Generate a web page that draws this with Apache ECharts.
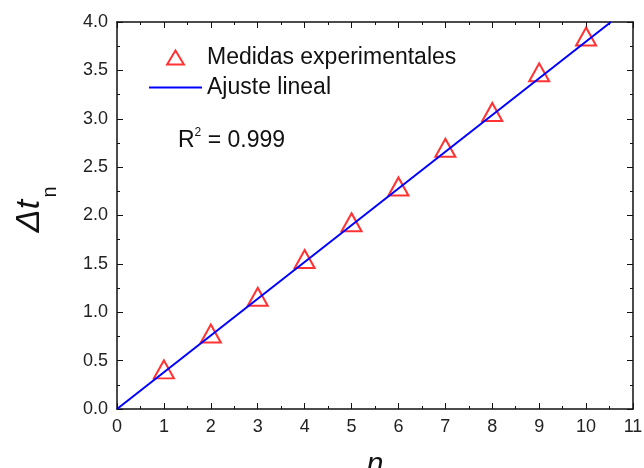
<!DOCTYPE html>
<html>
<head>
<meta charset="utf-8">
<script src="https://cdn.jsdelivr.net/npm/echarts@6/dist/echarts.min.js"></script>
<style>
  html, body { margin: 0; padding: 0; background: #fff; }
  #chart { width: 644px; height: 468px; }
</style>
</head>
<body>
<div id="chart"></div>
<script>
// datos
var nVals = [1, 2, 3, 4, 5, 6, 7, 8, 9, 10];
var dtVals = [0.41, 0.78, 1.16, 1.55, 1.93, 2.30, 2.70, 3.07, 3.48, 3.85];
// recta de ajuste (extremos)
var fitX = [0, 10.53];
var fitY = [0, 4.0];

var font = 'Liberation Sans, Arial, sans-serif';

var chart = echarts.init(document.getElementById('chart'));

// ejes del marco: marcas hacia dentro
function frameAxis(extra) {
    var base = {
        axisLine: { show: true, onZero: false, lineStyle: { color: '#111', width: 1.5 } },
        axisTick: { show: true, inside: false, length: -6, lineStyle: { color: '#111', width: 1 } },
        minorTick: { show: true, splitNumber: 2, length: -3, lineStyle: { color: '#111', width: 1 } },
        splitLine: { show: false },
        axisLabel: { show: false }
    };
    return Object.assign(base, extra);
}

var option = {
    animation: false,
    backgroundColor: '#fff',
    grid: { left: 117, right: 11, top: 22, bottom: 59, containLabel: false, outerBoundsMode: 'none' },
    legend: {
        orient: 'vertical',
        left: 144,
        top: 41,
        itemWidth: 53,
        itemHeight: 14,
        itemGap: 7,
        textStyle: { fontFamily: font, fontSize: 23, color: '#111' },
        data: [
            { name: 'Medidas experimentales', icon: 'path://M9,0L18,15L0,15Z' },
            { name: 'Ajuste lineal', icon: 'path://M0,0L53,0L53,2L0,2Z' }
        ]
    },
    xAxis: [
        frameAxis({
            type: 'value', position: 'bottom', min: 0, max: 11, interval: 1,
            axisLabel: { show: true, fontFamily: font, fontSize: 18, color: '#222', margin: 9 },
            name: 'n', nameLocation: 'middle', nameGap: 41,
            nameTextStyle: { fontFamily: font, fontSize: 30, fontStyle: 'italic', color: '#111' }
        }),
        frameAxis({ type: 'value', position: 'top', min: 0, max: 11, interval: 1 })
    ],
    yAxis: [
        frameAxis({
            type: 'value', position: 'left', min: 0, max: 4, interval: 0.5,
            axisLabel: {
                show: true, fontFamily: font, fontSize: 18, color: '#222', margin: 9,
                formatter: function (v) { return v.toFixed(1); }
            }
        }),
        frameAxis({ type: 'value', position: 'right', min: 0, max: 4, interval: 0.5 })
    ],
    graphic: [
        {
            type: 'text',
            left: 178,
            top: 127,
            style: {
                text: 'R{s|2} = 0.999',
                font: '23px ' + font,
                fill: '#111',
                rich: {
                    s: { fontSize: 12, verticalAlign: 'top', lineHeight: 27 }
                }
            }
        },
        // titulo del eje y: Δt con subindice n
        {
            type: 'text',
            x: 30,
            y: 216,
            rotation: Math.PI / 2,
            style: {
                text: '\u0394t',
                font: 'italic 34px ' + font,
                fill: '#111',
                align: 'center',
                verticalAlign: 'middle'
            }
        },
        {
            type: 'text',
            x: 50,
            y: 192,
            rotation: Math.PI / 2,
            style: {
                text: 'n',
                font: '20px ' + font,
                fill: '#111',
                align: 'center',
                verticalAlign: 'middle'
            }
        }
    ],
    series: [
        {
            name: 'Ajuste lineal',
            type: 'line',
            data: fitX.map(function (x, i) { return [x, fitY[i]]; }),
            symbol: 'none',
            lineStyle: { color: '#0000ff', width: 2 },
            itemStyle: { color: '#0000ff' },
            z: 3
        },
        {
            name: 'Medidas experimentales',
            type: 'scatter',
            data: nVals.map(function (x, i) { return [x, dtVals[i]]; }),
            symbol: 'triangle',
            symbolSize: [20, 18],
            itemStyle: { color: 'rgba(255,255,255,0)', borderColor: '#ff0000', borderWidth: 2 },
            z: 2
        }
    ]
};

chart.setOption(option);
</script>
</body>
</html>
